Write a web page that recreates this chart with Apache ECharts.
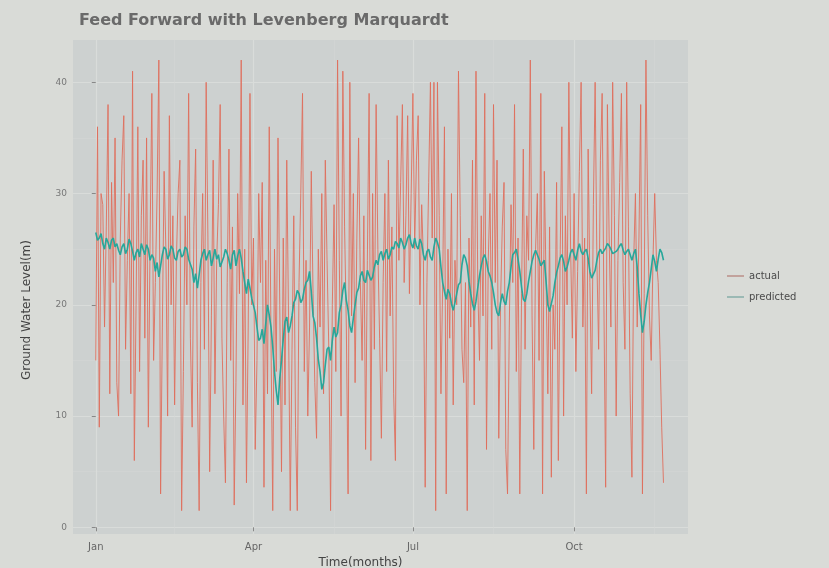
<!DOCTYPE html>
<html>
<head>
<meta charset="utf-8">
<script src="https://cdn.jsdelivr.net/npm/echarts@6/dist/echarts.min.js"></script>
<style>
html,body{margin:0;padding:0;background:#d9dbd7;}
#chart{width:829px;height:568px;}
</style>
</head>
<body>
<div id="chart"></div>
<script>
// Daily values, day 0 = Jan 1
const dayStep = 1;
const actual = [
  15, 36, 9, 30, 29, 18, 27, 38, 12, 31,
  22, 35, 13, 10, 26, 33, 37, 16, 24, 30,
  12, 41, 6, 20, 36, 14, 28, 33, 17, 35,
  9, 26, 39, 15, 22, 30, 42, 3, 18, 32,
  25, 10, 37, 20, 28, 11, 24, 30, 33, 1.5,
  14, 28, 20, 39, 17, 9, 27, 34, 13, 1.5,
  22, 30, 16, 40, 26, 5, 19, 33, 12, 24,
  29, 38, 17, 10, 4, 22, 34, 15, 27, 2,
  13, 30, 21, 42, 11, 25, 4, 18, 39, 20,
  26, 7, 15, 30, 22, 31, 3.6, 24, 12, 36,
  17, 1.5, 25, 14, 35, 20, 5, 26, 11, 33,
  19, 1.5, 16, 28, 9, 1.5, 22, 30, 39, 14,
  24, 10, 18, 32, 21, 13, 8, 25, 18, 30,
  12, 33, 24, 16, 1.5, 20, 29, 14, 42, 24,
  10, 41, 27, 18, 3, 40, 19, 30, 13, 26,
  35, 22, 15, 28, 7, 24, 39, 6, 30, 16,
  38, 25, 17, 8, 22, 30, 14, 33, 19, 27,
  12, 6, 37, 24, 31, 38, 22, 28, 37, 21,
  30, 39, 25, 33, 37, 20, 29, 24, 3.6, 22,
  31, 40, 26, 40, 1.5, 40, 28, 12, 22, 36,
  3, 25, 17, 30, 11, 24, 20, 41, 28, 16,
  13, 22, 1.5, 26, 18, 33, 11, 41, 22, 15,
  28, 19, 39, 7, 24, 30, 16, 38, 22, 33,
  8, 20, 27, 31, 7, 3, 18, 29, 22, 38,
  14, 26, 3, 21, 34, 16, 28, 24, 42, 19,
  7, 25, 30, 15, 39, 3, 32, 22, 12, 27,
  4.5, 20, 16, 31, 6, 24, 36, 10, 28, 20,
  40, 25, 17, 30, 14, 23, 32, 40, 18, 26,
  3, 34, 22, 12, 29, 40, 24, 16, 33, 39,
  20, 3.6, 38, 26, 18, 40, 28, 10, 24, 31,
  39, 22, 16, 40, 27, 12, 4.5, 24, 30, 18,
  26, 38, 3, 21, 42, 28, 19, 15, 24, 30,
  24, 22, 16, 9, 4
];
const predicted = [
  26.5, 25.8, 26, 26.4, 25.5, 25, 26, 25.6, 25, 25.8,
  26, 25.2, 25.5, 24.9, 24.5, 25.2, 25.5, 24.6, 25, 25.9,
  25.5, 24.8, 24, 24.7, 25, 24.3, 25.5, 25, 24.5, 25.4,
  25, 24, 24.5, 24.2, 23, 23.8, 22.5, 23.5, 24.5, 25.2,
  25, 24.1, 24.5, 25.3, 25, 24.2, 24, 24.8, 25, 24.3,
  24.5, 25.2, 25, 24.1, 24, 23.2, 22, 22.8, 21.5, 22.7,
  24, 24.6, 25, 24, 24.5, 24.9, 23.5, 24.2, 25, 24.1,
  24.5, 23.4, 23.5, 24.3, 25, 24.6, 24, 23.2, 24.5, 24.9,
  23.5, 24.4, 25, 24.2, 23, 22, 21, 22.3, 21.5, 20.6,
  20.5, 19.3, 18, 16.8, 17, 17.8, 16.5, 18.3, 20, 19.1,
  18, 16.2, 14, 12.3, 11, 13.4, 15, 16.9, 18.5, 18.9,
  17.5, 18.1, 19, 20.2, 20.5, 21.3, 21, 20.2, 20.5, 21.4,
  22, 22.2, 23, 21.2, 19, 18.4, 17, 15.1, 14, 12.4,
  13, 14.6, 16, 16.2, 15, 16.8, 18, 17.1, 17.5, 19.3,
  20, 21.3, 22, 20.4, 19.5, 18.1, 17.5, 18.8, 20, 21.1,
  21.5, 22.6, 23, 22.2, 22, 23.1, 23, 22.2, 22.5, 23.4,
  24, 23.6, 24.5, 24.8, 24, 24.6, 25, 24.1, 24.5, 25.2,
  25, 25.7, 25.5, 25.1, 26, 25.6, 25, 25.4, 26, 26.3,
  25.5, 25.1, 26, 25.3, 25, 25.9, 25.5, 24.5, 24, 24.8,
  25, 24.3, 24, 25.2, 26, 25.6, 25, 23.4, 22, 21.2,
  20.5, 21.4, 21, 20.1, 19.5, 20.2, 21, 21.8, 22, 23.6,
  24.5, 24.2, 23.5, 22.1, 21, 20.1, 19.5, 20.3, 21.5, 22.6,
  23.5, 24.2, 24.5, 23.9, 23, 22.6, 22, 21.1, 20, 19.3,
  19, 20.2, 21, 20.3, 20, 21.2, 22, 23.4, 24.5, 24.7,
  25, 24.1, 23, 21.6, 20.5, 20.3, 21, 22.1, 23, 23.9,
  24.5, 24.9, 25, 24.1, 23.5, 23.4, 24, 22.1, 20, 19.4,
  19.5, 20.8, 22, 22.9, 23.5, 24.2, 24.5, 23.9, 23, 23.4,
  24, 24.7, 25, 24.5, 24, 24.9, 25.5, 24.8, 24.5, 24.8,
  25, 24.2, 23, 22.4, 22.5, 23.1, 24, 24.7, 25, 24.6,
  24.5, 25.1, 25.5, 25.3, 25, 24.6, 24.5, 24.8, 25, 25.3,
  25.5, 24.9, 24.5, 24.8, 25, 24.5, 24, 24.6, 25, 23.4,
  21, 19.1, 17.5, 18.5, 20, 21.1, 22, 23.2, 24.5, 23.9,
  23, 24.1, 25, 24.7, 24
];
const monthTickDays = [0, 90, 181, 273];
const monthTickLabels = ['Jan', 'Apr', 'Jul', 'Oct'];
const monthMinorDays = [45, 136, 227, 319];
const yTicks = [0, 10, 20, 30, 40];
const yMinor = [5, 15, 25, 35];
const seriesNames = ['actual', 'predicted'];

const toPairs = arr => arr.map((v, i) => [i * dayStep, v]);

const chart = echarts.init(document.getElementById('chart'), null, {renderer: 'canvas'});
const gridPos = {left: 73, right: 141, top: 40, bottom: 34};
chart.setOption({
  backgroundColor: '#d9dbd7',
  animation: false,
  title: {
    text: 'Feed Forward with Levenberg Marquardt',
    left: 74, top: 8,
    textStyle: {fontFamily: 'DejaVu Sans', fontSize: 16, fontWeight: 'bold', color: '#6a6a6a'}
  },
  legend: {
    orient: 'vertical', left: 722, top: 266, itemGap: 11,
    itemWidth: 17, itemHeight: 2, icon: 'rect',
    textStyle: {fontFamily: 'DejaVu Sans', fontSize: 10, color: '#4a4a4a'},
    data: [
      {name: seriesNames[0], itemStyle: {color: '#c2a29c'}},
      {name: seriesNames[1], itemStyle: {color: '#9bb9b4'}}
    ]
  },
  grid: [Object.assign({show: true, backgroundColor: '#cdd1d0', borderWidth: 0, outerBoundsMode: 'none', containLabel: false}, gridPos)],
  xAxis: [{
    type: 'value', min: -13, max: 338,
    name: 'Time(months)', nameLocation: 'middle', nameGap: 21,
    nameTextStyle: {fontFamily: 'DejaVu Sans', fontSize: 12, color: '#444', padding: [0, 40, 0, 0]},
    axisLine: {show: false},
    axisTick: {show: true, length: 4, lineStyle: {color: '#888'}, customValues: monthTickDays},
    axisLabel: {customValues: monthTickDays, fontFamily: 'DejaVu Sans', fontSize: 10, color: '#666', margin: 8,
      formatter: v => monthTickLabels[monthTickDays.indexOf(v)] || ''},
    splitLine: {show: true, lineStyle: {color: '#d9dcda', width: 1.2}}
  }, {
    type: 'value', min: -13, max: 338, position: 'bottom',
    axisLine: {show: false}, axisLabel: {show: false},
    axisTick: {show: false, customValues: monthMinorDays},
    splitLine: {show: true, lineStyle: {color: '#d3d6d5', width: 0.6}}
  }],
  yAxis: [{
    type: 'value', min: -0.6, max: 43.8,
    name: 'Ground Water Level(m)', nameLocation: 'middle', nameGap: 40,
    nameTextStyle: {fontFamily: 'DejaVu Sans', fontSize: 12, color: '#444', padding: [0, 46, 0, 0]},
    axisLine: {show: false},
    axisTick: {show: true, length: 4, lineStyle: {color: '#888'}, customValues: yTicks},
    axisLabel: {customValues: yTicks, fontFamily: 'DejaVu Sans', fontSize: 9, color: '#777', margin: 6},
    splitLine: {show: true, lineStyle: {color: '#d9dcda', width: 1.2}}
  }, {
    type: 'value', min: -0.6, max: 43.8, position: 'left',
    axisLine: {show: false}, axisLabel: {show: false},
    axisTick: {show: false, customValues: yMinor},
    splitLine: {show: true, lineStyle: {color: '#d3d6d5', width: 0.6}}
  }],
  series: [{
    name: seriesNames[0], type: 'line', data: toPairs(actual),
    showSymbol: false, symbol: 'none',
    lineStyle: {color: '#df6f5d', width: 1, opacity: 0.9},
    itemStyle: {color: '#df6f5d'}, z: 2
  }, {
    name: seriesNames[1], type: 'line', data: toPairs(predicted),
    showSymbol: false, symbol: 'none',
    lineStyle: {color: '#27a79a', width: 1.6},
    itemStyle: {color: '#27a79a'}, z: 3
  }]
});
</script>
</body>
</html>
